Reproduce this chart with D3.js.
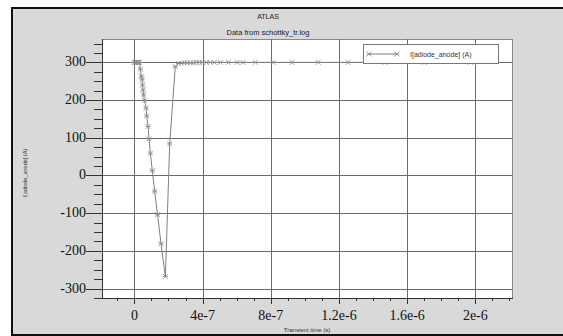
<!DOCTYPE html>
<html>
<head>
<meta charset="utf-8">
<script src="https://cdn.jsdelivr.net/npm/d3@7"></script>
<style>
  body { margin: 0; background: #fff; }
  svg { display: block; }
</style>
</head>
<body>
<svg id="chart" width="563" height="336"></svg>
<script>
// transient time (s) and anode current (A)
var times = [0, 5e-9, 1e-8, 1.5e-8, 2e-8, 2.5e-8, 3e-8, 3.5e-8, 4.1e-8, 4.5e-8,
             4.8e-8, 5.1e-8, 5.4e-8, 5.9e-8, 6.9e-8, 7.2e-8, 8.0e-8, 8.6e-8, 9.4e-8, 1.05e-7,
             1.19e-7, 1.36e-7, 1.56e-7, 1.82e-7, 2.07e-7, 2.40e-7, 2.58e-7, 2.75e-7, 2.93e-7, 3.1e-7,
             3.28e-7, 3.46e-7, 3.63e-7, 3.81e-7, 3.98e-7, 4.22e-7, 4.45e-7, 4.69e-7, 5.04e-7, 5.51e-7,
             6.03e-7, 6.38e-7, 7.09e-7, 8.14e-7, 9.25e-7, 1.078e-6, 1.253e-6, 1.47e-6, 1.70e-6, 1.97e-6];
var current = [300, 300, 300, 300, 300, 300, 299, 282, 263, 254,
               240, 227, 214, 199, 179, 158, 130, 97, 59, 13,
               -42, -104, -181, -268, 84, 289, 297, 298, 299, 299,
               299, 299, 300, 300, 300, 300, 300, 300, 300, 300,
               300, 300, 300, 300, 300, 300, 300, 300, 300, 300];
var x_ticks = [0, 4e-7, 8e-7, 1.2e-6, 1.6e-6, 2e-6];
var x_tick_labels = ["0", "4e-7", "8e-7", "1.2e-6", "1.6e-6", "2e-6"];
var y_ticks = [-300, -200, -100, 0, 100, 200, 300];
var series_name = "I[adiode_anode] (A)";

(function(){
    var svg = d3.select("#chart");
    var left = 102, right = 512, top = 39, bottom = 298;

    // window background and frame
    svg.append("rect").attr("x", 0).attr("y", 0).attr("width", 563).attr("height", 336)
        .attr("fill", "#fff");
    svg.append("rect").attr("x", 12).attr("y", 8).attr("width", 560).attr("height", 327)
        .attr("fill", "#d9d9d9").attr("stroke", "#111").attr("stroke-width", 2);

    var x = d3.scaleLinear().domain([-1.9e-7, 2.215e-6]).range([left, right]);
    var y = d3.scaleLinear().domain([-325, 362]).range([bottom, top]);

    // plot area
    svg.append("rect").attr("x", left + 0.5).attr("y", top + 0.5)
        .attr("width", right - left).attr("height", bottom - top)
        .attr("fill", "#fff").attr("stroke", "#888").attr("stroke-width", 1);

    // grid
    var grid = svg.append("g").attr("stroke", "#6a6a6a").attr("stroke-width", 1);
    x_ticks.forEach(function(t) {
        grid.append("line").attr("x1", Math.round(x(t)) + 0.5).attr("x2", Math.round(x(t)) + 0.5)
            .attr("y1", top).attr("y2", bottom);
    });
    y_ticks.forEach(function(v) {
        grid.append("line").attr("y1", Math.round(y(v)) + 0.5).attr("y2", Math.round(y(v)) + 0.5)
            .attr("x1", left).attr("x2", right);
    });

    // y axis, major and minor ticks
    var yminor = d3.range(-325, 351, 25).filter(function(v) { return v % 100 !== 0; });
    var yax = svg.append("g").attr("stroke", "#333");
    yax.append("line").attr("x1", left + 0.5).attr("x2", left + 0.5).attr("y1", top).attr("y2", bottom);
    yminor.forEach(function(v) {
        yax.append("line").attr("x1", left - 8).attr("x2", left)
            .attr("y1", Math.round(y(v)) + 0.5).attr("y2", Math.round(y(v)) + 0.5);
    });
    y_ticks.forEach(function(v) {
        yax.append("line").attr("x1", left - 16).attr("x2", left)
            .attr("y1", Math.round(y(v)) + 0.5).attr("y2", Math.round(y(v)) + 0.5);
    });
    svg.append("g").selectAll("text").data(y_ticks).join("text")
        .attr("x", left - 16).attr("y", function(d) { return y(d) + 4; })
        .attr("text-anchor", "end")
        .attr("font-family", "Liberation Serif, serif").attr("font-size", 14)
        .attr("fill", "#111")
        .text(function(d) { return d; });

    // x axis
    var xminor = d3.range(-1, 23).map(function(i) { return i * 1e-7; })
        .filter(function(t, i) { return (i - 1) % 4 !== 0; });
    var xax = svg.append("g").attr("stroke", "#333");
    xax.append("line").attr("x1", left).attr("x2", right + 1).attr("y1", bottom + 0.5).attr("y2", bottom + 0.5);
    xminor.forEach(function(t) {
        xax.append("line").attr("x1", Math.round(x(t)) + 0.5).attr("x2", Math.round(x(t)) + 0.5)
            .attr("y1", bottom).attr("y2", bottom + 3);
    });
    x_ticks.forEach(function(t) {
        xax.append("line").attr("x1", Math.round(x(t)) + 0.5).attr("x2", Math.round(x(t)) + 0.5)
            .attr("y1", bottom).attr("y2", bottom + 6);
    });
    svg.append("g").selectAll("text").data(x_ticks).join("text")
        .attr("x", function(d) { return x(d); }).attr("y", 320)
        .attr("text-anchor", "middle")
        .attr("font-family", "Liberation Serif, serif").attr("font-size", 14)
        .attr("fill", "#111")
        .text(function(d, i) { return x_tick_labels[i]; });

    // titles and axis labels
    var sans = "Liberation Sans, Arial, sans-serif";
    svg.append("text").attr("x", 268).attr("y", 19).attr("text-anchor", "middle")
        .attr("font-family", sans).attr("font-size", 7).attr("fill", "#222").text("ATLAS");
    svg.append("text").attr("x", 268).attr("y", 35).attr("text-anchor", "middle")
        .attr("font-family", sans).attr("font-size", 7.5).attr("fill", "#222")
        .text("Data from schottky_tr.log");
    svg.append("text").attr("x", 307).attr("y", 332).attr("text-anchor", "middle")
        .attr("font-family", sans).attr("font-size", 6).attr("fill", "#333")
        .text("Transient time (s)");
    svg.append("text").attr("transform", "translate(27,173) rotate(-90)")
        .attr("text-anchor", "middle")
        .attr("font-family", sans).attr("font-size", 5.5).attr("fill", "#333")
        .text(series_name);

    // data
    var pts = times.map(function(t, i) { return [x(t), y(current[i])]; });
    var plot = svg.append("g");
    plot.append("path").attr("d", d3.line()(pts))
        .attr("fill", "none").attr("stroke", "#808080").attr("stroke-width", 1);

    function cross(g, cx, cy) {
        var s = 2.5;
        g.append("path")
            .attr("d", "M" + (cx - s) + "," + (cy - s) + "L" + (cx + s) + "," + (cy + s) +
                       "M" + (cx - s) + "," + (cy + s) + "L" + (cx + s) + "," + (cy - s) +
                       "M" + (cx - s) + "," + cy + "L" + (cx + s) + "," + cy)
            .attr("fill", "none").attr("stroke", "#8a8a8a").attr("stroke-width", 0.8);
    }
    pts.forEach(function(p) { cross(plot, p[0], p[1]); });

    // legend
    var lg = svg.append("g");
    lg.append("rect").attr("x", 363.5).attr("y", 44.5).attr("width", 135).attr("height", 19)
        .attr("fill", "#fff").attr("stroke", "#777").attr("stroke-width", 1);
    lg.append("line").attr("x1", 369).attr("x2", 397).attr("y1", 54).attr("y2", 54)
        .attr("stroke", "#808080");
    cross(lg, 369, 54);
    cross(lg, 397, 54);
    lg.append("text").attr("x", 410).attr("y", 56.5)
        .attr("font-family", sans).attr("font-size", 7).attr("fill", "#333")
        .text(series_name);
})();
</script>
</body>
</html>
